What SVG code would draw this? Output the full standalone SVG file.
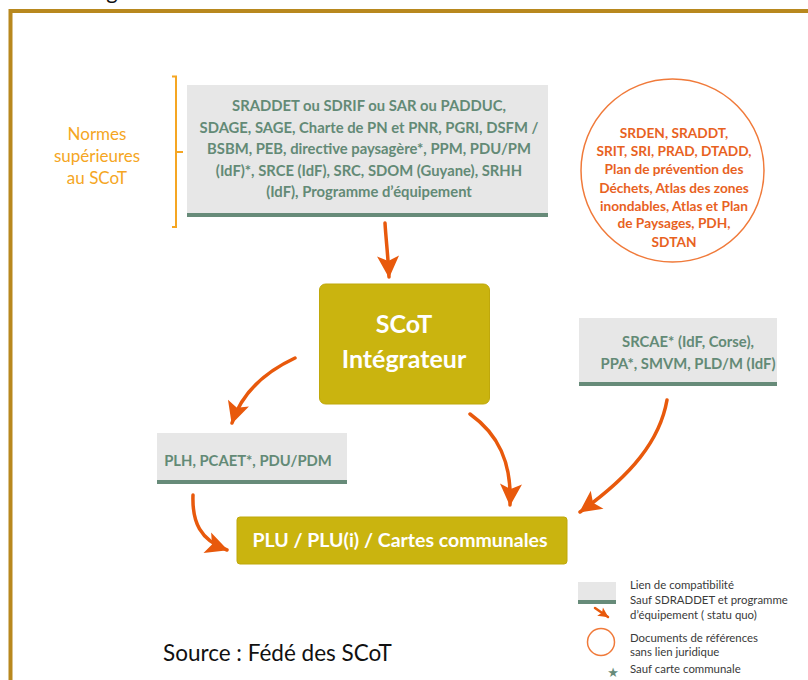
<svg xmlns="http://www.w3.org/2000/svg" width="808" height="680" viewBox="0 0 808 680">
  <defs>
    <style>
      .doc { fill: #E7E7E7; }
      .bar { fill: #678B79; }
      .doctxt { font-family: Lato, "Liberation Sans", sans-serif; font-weight: bold; font-size: 14.8px; fill: #638A76; text-anchor: middle; }
      .gold { fill: #CAB40F; stroke: #BFA80B; stroke-width: 1; }
      .goldtxt { font-family: Lato, "Liberation Sans", sans-serif; font-weight: bold; fill: #FFFFFF; text-anchor: middle; }
      .ref { font-family: Lato, "Liberation Sans", sans-serif; font-weight: bold; font-size: 13.7px; fill: #E8621F; text-anchor: middle; }
      .norme { font-family: Lato, "Liberation Sans", sans-serif; font-size: 17px; fill: #F5A623; text-anchor: middle; }
      .legend { font-family: Lato, "Liberation Sans", sans-serif; font-size: 11.4px; fill: #3A3A3A; }
      .arrow { fill: none; stroke: #E8590C; stroke-width: 3.5; stroke-linecap: round; marker-end: url(#head); }
    </style>
    <marker id="head" viewBox="0 0 24 24" markerWidth="24" markerHeight="24" refX="22" refY="12" orient="auto" markerUnits="userSpaceOnUse">
      <path d="M1,1 L23,12 L1,23 L6,12 Z" fill="#E8590C"/>
    </marker>
    <marker id="headSmall" viewBox="0 0 24 24" markerWidth="11" markerHeight="11" refX="22" refY="12" orient="auto" markerUnits="userSpaceOnUse">
      <path d="M1,1 L23,12 L1,23 L6,12 Z" fill="#E8590C"/>
    </marker>
  </defs>

  <rect width="808" height="680" fill="#FFFFFF"/>

  <!-- title, clipped by the top edge -->
  <text x="112" y="-1" font-family="Lato, 'Liberation Sans', sans-serif" font-size="22" fill="#111111" text-anchor="middle">g</text>

  <!-- frame -->
  <rect x="10.5" y="11" width="820" height="700" fill="none" stroke="#B8881E" stroke-width="4"/>

  <!-- bracket: normes supérieures -->
  <g id="normes">
    <path d="M172,76.5 L176,76.5 L176,227 L172,227 M176,152 L183,152" fill="none" stroke="#F5A623" stroke-width="2"/>
    <text class="norme" x="97" y="140">Normes</text>
    <text class="norme" x="97" y="162">supérieures</text>
    <text class="norme" x="97" y="184">au SCoT</text>
  </g>

  <!-- documents de rang supérieur -->
  <g id="superieurs">
    <rect class="doc" x="187" y="85" width="361" height="128"/>
    <rect class="bar" x="187" y="213" width="361" height="4"/>
    <text class="doctxt" x="369" y="111">SRADDET ou SDRIF ou SAR ou PADDUC,</text>
    <text class="doctxt" x="369" y="133">SDAGE, SAGE, Charte de PN et PNR, PGRI, DSFM /</text>
    <text class="doctxt" x="369" y="154">BSBM, PEB, directive paysagère*, PPM, PDU/PM</text>
    <text class="doctxt" x="369" y="176">(IdF)*, SRCE (IdF), SRC, SDOM (Guyane), SRHH</text>
    <text class="doctxt" x="369" y="197">(IdF), Programme d’équipement</text>
  </g>

  <!-- documents de référence -->
  <g id="references">
    <circle cx="672.5" cy="170.5" r="91.5" fill="#FFFFFF" stroke="#F07A3A" stroke-width="1.5"/>
    <text class="ref" x="674" y="137.5">SRDEN, SRADDT,</text>
    <text class="ref" x="674" y="156">SRIT, SRI, PRAD, DTADD,</text>
    <text class="ref" x="674" y="174">Plan de prévention des</text>
    <text class="ref" x="674" y="192.5">Déchets, Atlas des zones</text>
    <text class="ref" x="674" y="210.5">inondables, Atlas et Plan</text>
    <text class="ref" x="674" y="228">de Paysages, PDH,</text>
    <text class="ref" x="674" y="246.5">SDTAN</text>
  </g>

  <!-- SCoT intégrateur -->
  <g id="scot">
    <rect class="gold" x="319.5" y="284" width="170" height="120" rx="6"/>
    <text class="goldtxt" x="404" y="333" font-size="25">SCoT</text>
    <text class="goldtxt" x="404" y="368" font-size="25">Intégrateur</text>
  </g>

  <!-- SRCAE -->
  <g id="srcae">
    <rect class="doc" x="579" y="318" width="198" height="64"/>
    <rect class="bar" x="579" y="382" width="198" height="4"/>
    <text class="doctxt" x="688" y="347">SRCAE* (IdF, Corse),</text>
    <text class="doctxt" x="688" y="369">PPA*, SMVM, PLD/M (IdF)</text>
  </g>

  <!-- PLH -->
  <g id="plh">
    <rect class="doc" x="157" y="433" width="190" height="47"/>
    <rect class="bar" x="157" y="480" width="190" height="4"/>
    <text class="doctxt" x="248" y="466">PLH, PCAET*, PDU/PDM</text>
  </g>

  <!-- PLU -->
  <g id="plu">
    <rect class="gold" x="237" y="517" width="330" height="47" rx="3"/>
    <text class="goldtxt" x="400" y="547" font-size="19.5">PLU / PLU(i) / Cartes communales</text>
  </g>

  <!-- liens -->
  <g id="connectors">
    <path class="arrow" d="M385,223 C386,240 388,255 389,277"/>
    <path class="arrow" d="M295,358 C265,372 242,392 232,423"/>
    <path class="arrow" d="M470,414 C498,434 512,462 510,505"/>
    <path class="arrow" d="M193,495 C192,522 200,540 227,550"/>
    <path class="arrow" d="M667,400 C660,440 632,475 580,512"/>
  </g>

  <!-- légende -->
  <g id="legend">
    <rect class="doc" x="578" y="582" width="38" height="18"/>
    <rect class="bar" x="578" y="600" width="38" height="4"/>
    <path d="M595,608 L608,617" fill="none" stroke="#E8590C" stroke-width="2.5" stroke-linecap="round" marker-end="url(#headSmall)"/>
    <circle cx="601" cy="642" r="13.5" fill="#FFFFFF" stroke="#F07A3A" stroke-width="1.5"/>
    <text x="613" y="677" font-family="'DejaVu Sans', sans-serif" font-size="13" fill="#678B79" text-anchor="middle">★</text>
    <text class="legend" x="630" y="589">Lien de compatibilité</text>
    <text class="legend" x="630" y="604">Sauf SDRADDET et programme</text>
    <text class="legend" x="630" y="619">d’équipement ( statu quo)</text>
    <text class="legend" x="630" y="642">Documents de références</text>
    <text class="legend" x="630" y="656">sans lien juridique</text>
    <text class="legend" x="630" y="673">Sauf carte communale</text>
  </g>

  <text x="163" y="661" font-family="Lato, 'Liberation Sans', sans-serif" font-size="22.5" fill="#111111">Source : Fédé des SCoT</text>
</svg>
